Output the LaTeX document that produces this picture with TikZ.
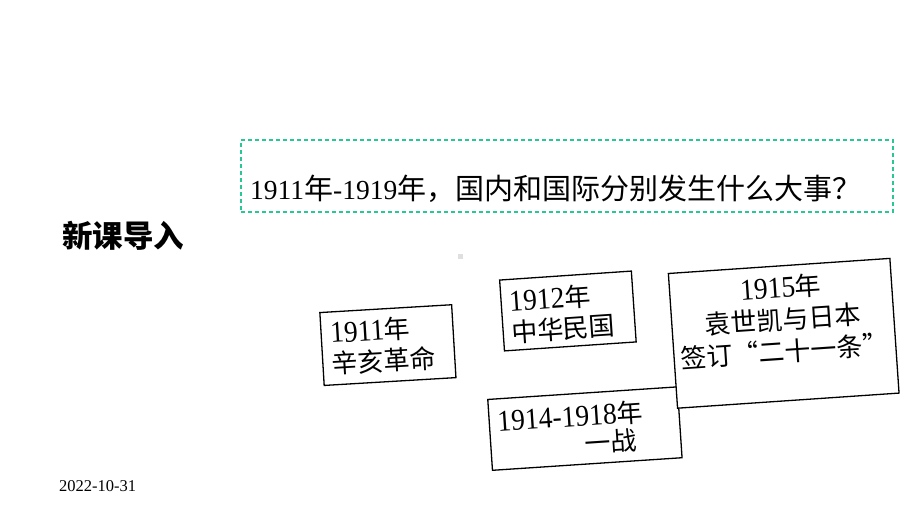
\documentclass[tikz,border=0pt]{standalone}
\usepackage{fontspec}
\setmainfont{Liberation Serif}
\newfontfamily\cjk{Noto Sans CJK SC}
\newcommand\zh[1]{{\cjk #1}}
\newcommand\bd[1]{\scalebox{0.92}[1]{\fontsize{30}{31}\selectfont #1}}
\definecolor{qgreen}{RGB}{40,200,150}
\begin{document}
\begin{tikzpicture}[x=1pt,y=1pt,
  box/.style={draw=black, line width=1.3pt, fill=white, inner sep=0pt},
  txt/.style={font=\fontsize{26}{31}\selectfont, align=left, inner sep=0pt},
  qbox/.style={draw=qgreen, line width=1.5pt, dash pattern=on 4pt off 3pt, inner sep=0pt}]
\useasboundingbox (0,0) rectangle (920,518);
\fill[white] (0,0) rectangle (920,518);
% heading
\node[font=\cjk\bfseries\fontsize{30.5}{36}\selectfont, anchor=west, inner sep=0pt] (head) at (62,518-236) {新课导入};
% question box
\node[qbox, minimum width=652, minimum height=72] (qframe) at (567,518-176) {};
\node[font=\fontsize{29}{32}\selectfont, anchor=west, inner sep=0pt] (qtext) at (250,518-189) {{\fontsize{27.5}{32}\selectfont 1911}\zh{年}{\fontsize{27.5}{32}\selectfont -1919}\zh{年，国内和国际分别发生什么大事？}};
% small gray mark
\node[fill=gray!25, minimum size=5, inner sep=0pt] (dot) at (460,518-257) {};
% date
\node[font=\fontsize{16.5}{20}\selectfont, anchor=west, inner sep=0pt] (date) at (59,518-486) {2022-10-31};
% box 1
\begin{scope}[shift={(387.9,518-345.1)}, rotate=3.4, transform shape]
  \node[box, minimum width=132, minimum height=73] (b1) at (0,0) {};
  \node[txt, anchor=west] (t1) at (-57,0) {\bd{1911}\zh{年}\\\zh{辛亥革命}};
\end{scope}
% box 2
\begin{scope}[shift={(567.9,518-311)}, rotate=3.9, transform shape]
  \node[box, minimum width=132, minimum height=71] (b2) at (0,0) {};
  \node[txt, anchor=west] (t2) at (-58,-2) {\bd{1912}\zh{年}\\\zh{中华民国}};
\end{scope}
% box 3
\begin{scope}[shift={(584.9,518-428.6)}, rotate=3.8, transform shape]
  \node[box, minimum width=190, minimum height=71] (b3) at (0,0) {};
  \node[txt, anchor=west, font=\fontsize{26}{28}\selectfont] (t3) at (-87,-1) {\bd{1914-1918}\zh{年}\\\hspace*{86pt}\zh{一战}};
\end{scope}
% box 4
\begin{scope}[shift={(783.7,518-333.3)}, rotate=3.9, transform shape]
  \node[box, minimum width=222, minimum height=135] (b4) at (0,0) {};
  \node[txt, align=center, font=\fontsize{26}{32}\selectfont] (t4) at (0,14) {\bd{1915}\zh{年}\\\zh{袁世凯与日本}\\\zh{签订“二十一条”}};
\end{scope}
\end{tikzpicture}
\end{document}
